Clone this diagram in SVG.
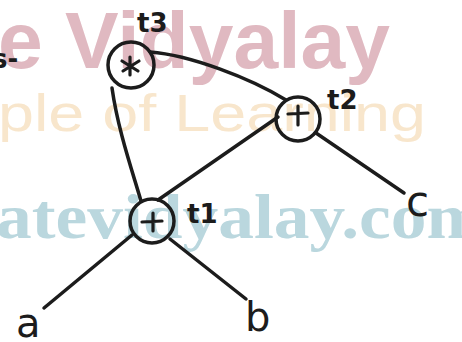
<svg xmlns="http://www.w3.org/2000/svg" width="462" height="342" viewBox="0 0 462 342">
<style>
.wm{font-family:"Liberation Sans",Arial,sans-serif;font-weight:bold}
.edge{fill:none;stroke:#1c1c1c;stroke-width:3.5;stroke-linecap:round}
.node{fill:#fff;fill-opacity:0;stroke:#1c1c1c;stroke-width:3.5}
.op{fill:none;stroke:#1c1c1c;stroke-width:3.2;stroke-linecap:round}
.lbl{font-family:"DejaVu Sans","Noto Sans",sans-serif;fill:#1c1c1c}
</style>
<rect width="462" height="342" fill="#fff"/>
<g id="watermark">
<text class="wm" x="-2" y="68" font-size="80" fill="#e0b9c1" textLength="392" lengthAdjust="spacingAndGlyphs">e Vidyalay</text>
<text x="-2" y="131" font-size="52" font-family="'Liberation Sans',Arial,sans-serif" fill="#f8e6cc" textLength="428" lengthAdjust="spacingAndGlyphs">ple of Learning</text>
<text x="-4" y="238" font-size="64" font-family="'Liberation Serif',serif" font-weight="bold" fill="#bad7de" textLength="490" lengthAdjust="spacingAndGlyphs">atevidyalay.com</text>
<text class="lbl" x="-8" y="68" font-size="26" font-weight="bold">s-</text>
</g>
<g id="connectors">
<path class="edge" d="M112,88 C118,130 132,170 141,201"/>
<path class="edge" d="M150,52 C190,55 250,78 286,100"/>
<path class="edge" d="M278,117 L158,200"/>
<path class="edge" d="M316,133 L404,193"/>
<path class="edge" d="M132,235 L44,308"/>
<path class="edge" d="M170,239 L246,299"/>
</g>
<g id="t3">
<circle class="node" cx="131" cy="65" r="23"/>
<path class="op" d="M122,61 L138,71 M139,61 L123,71 M130,57 L130,75"/>
<text class="lbl" x="137" y="32" font-size="26" font-weight="bold">t3</text>
</g>
<g id="t2">
<circle class="node" cx="298" cy="119" r="22"/>
<path class="op" d="M288,114 L308,113 M298,106 L298,125"/>
<text class="lbl" x="327" y="109" font-size="26" font-weight="bold">t2</text>
</g>
<g id="t1">
<circle class="node" cx="152" cy="221" r="22"/>
<path class="op" d="M142,222 L162,221 M153,213 L153,231"/>
<text class="lbl" x="187" y="223" font-size="26" font-weight="bold">t1</text>
</g>
<g id="a"><text class="lbl" x="16" y="337" font-size="40">a</text></g>
<g id="b"><text class="lbl" x="245" y="331" font-size="40">b</text></g>
<g id="c"><text class="lbl" x="406" y="216" font-size="42">c</text></g>
</svg>
